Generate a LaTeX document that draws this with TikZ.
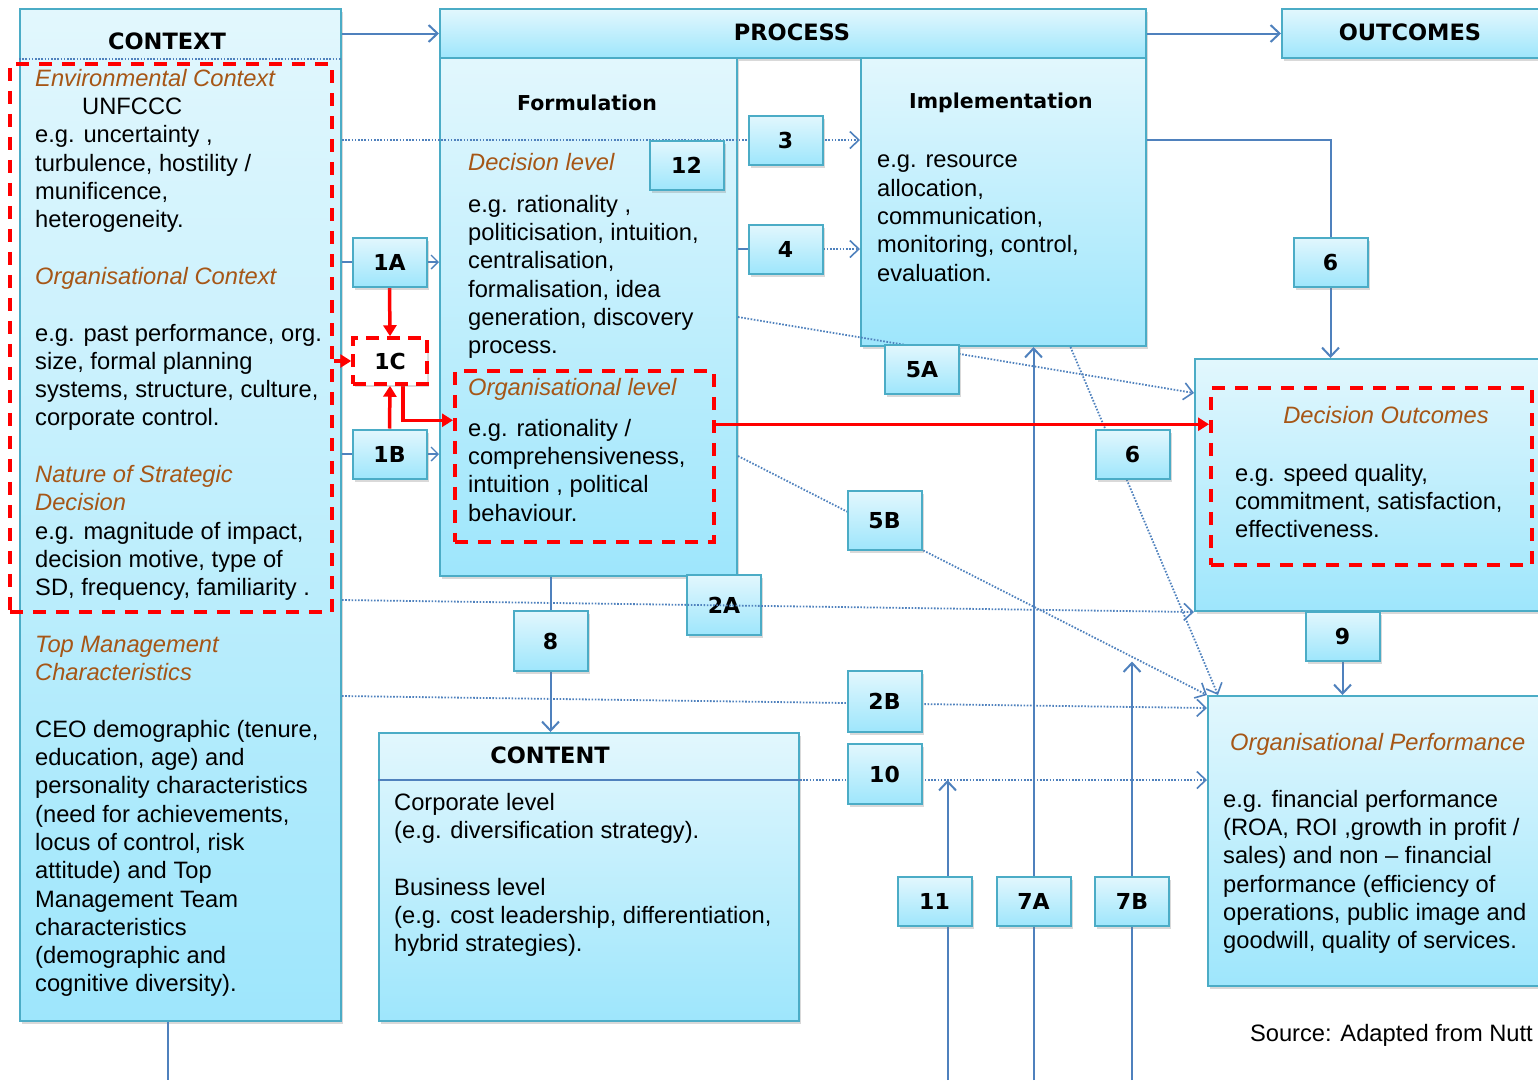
\documentclass[tikz,border=0pt]{standalone}
\usepackage{fontspec}
\setmainfont{Liberation Sans}
\newfontfamily\hdfont{DejaVu Sans}
\usetikzlibrary{arrows.meta,shadows,positioning}

\definecolor{boxline}{RGB}{75,172,198}
\definecolor{boxtop}{RGB}{226,247,253}
\definecolor{boxbot}{RGB}{158,230,252}
\definecolor{arrowblue}{RGB}{79,129,189}
\definecolor{headbrown}{RGB}{166,86,22}

\newcommand{\bodyfont}{\fontsize{23.7pt}{28.3pt}\selectfont}
\newcommand{\hd}[1]{\textcolor{headbrown}{\itshape #1}}

\pgfdeclarelayer{boxes}
\pgfdeclarelayer{lines}
\pgfdeclarelayer{top}
\pgfsetlayers{boxes,lines,main,top}

\begin{document}
\begin{tikzpicture}[x=1pt, y=-1pt,
  box/.style={draw=boxline, line width=2pt, top color=boxtop, bottom color=boxbot,
    inner sep=0pt, drop shadow={shadow xshift=2pt, shadow yshift=-3pt, opacity=0.3}},
  bigbox/.style={box, anchor=north west},
  numbox/.style={box, minimum width=74pt, minimum height=49pt,
    font=\hdfont\bfseries\fontsize{22pt}{26pt}\selectfont},
  reddash/.style={draw=red, line width=3.5pt, dash pattern=on 13pt off 10pt, inner sep=0pt},
  title/.style={font=\hdfont\bfseries\fontsize{22.5pt}{27pt}\selectfont},
  subtitle/.style={font=\hdfont\bfseries\fontsize{20.5pt}{25pt}\selectfont},
  txt/.style={anchor=north west, align=left, inner sep=0pt, font=\bodyfont},
  link/.style={draw=arrowblue, line width=2pt},
  arr/.style={link, -{Straight Barb[length=9pt,width=17pt]}},
  smallarr/.style={link, line width=1.3pt, -{Straight Barb[length=7pt,width=14pt]}},
  dotlink/.style={draw=arrowblue, line width=1.8pt, dash pattern=on 1.6pt off 1.6pt},
  dotarr/.style={dotlink, -{Straight Barb[length=9pt,width=17pt,line width=1.6pt]}},
  redlink/.style={draw=red, line width=3.5pt},
  redarr/.style={redlink, -{Triangle[length=11pt,width=13pt]}}]

  \useasboundingbox (0,0) rectangle (1538,1080);
  \coordinate (bot) at (0,1080);

  % main boxes
  \begin{pgfonlayer}{boxes}
    \node[bigbox, minimum width=321pt, minimum height=1012pt] (context) at (19,8) {};
    \node[bigbox, minimum width=706pt, minimum height=49pt] (process) at (439,8) {};
    \node[bigbox, minimum width=297pt, minimum height=518pt] (formul) at (439,57) {};
    \node[bigbox, minimum width=285pt, minimum height=288pt] (implem) at (860,57) {};
    \node[bigbox, minimum width=280pt, minimum height=49pt] (outcomes) at (1281,8) {};
    \node[bigbox, minimum width=370pt, minimum height=252pt] (decout) at (1194,358) {};
    \node[bigbox, minimum width=360pt, minimum height=290pt] (orgperf) at (1207,695) {};
    \node[bigbox, minimum width=420pt, minimum height=288pt] (content) at (378,732) {};
    \coordinate (csep) at ([yshift=-48pt]content.north east);
    \draw[dotlink] (context.west |- process.south) -- (context.east |- process.south);
    \draw[link] (content.west |- csep) -- (csep);

    % titles
    \node[title] (contexttitle) at (167,41) {CONTEXT};
    \node[title] (processtitle) at (792,32) {PROCESS};
    \node[title] (outcomestitle) at (1410,32) {OUTCOMES};
    \node[title] (contenttitle) at (550,755) {CONTENT};
    \node[subtitle] (formultitle) at (587,103) {Formulation};
    \node[subtitle] (implemtitle) at (1001,103) {Implementation};

    % red dashed groups
    \node[reddash, anchor=north west, minimum width=322pt, minimum height=548pt] (envbox) at (8,62) {};
    \node[reddash, anchor=north west, minimum width=259pt, minimum height=171pt] (orglevel) at (453,369) {};
    \node[reddash, anchor=north west, minimum width=321pt, minimum height=177pt] (decdash) at (1209,386) {};

    % texts
    \node[txt] (contexttext) at (35,69) {\hd{Environmental Context}\\
      \hspace*{47pt}UNFCCC\\
      e.g. uncertainty ,\\
      turbulence, hostility /\\
      munificence,\\
      heterogeneity.\\[28.3pt]
      \hd{Organisational Context}\\[28.3pt]
      e.g. past performance, org.\\
      size, formal planning\\
      systems, structure, culture,\\
      corporate control.\\[28.3pt]
      \hd{Nature of Strategic}\\
      \hd{Decision}\\
      e.g. magnitude  of impact,\\
      decision motive, type of\\
      SD, frequency, familiarity .\\[28.3pt]
      \hd{Top Management}\\
      \hd{Characteristics}\\[28.3pt]
      CEO demographic (tenure,\\
      education, age) and\\
      personality characteristics\\
      (need for achievements,\\
      locus of control, risk\\
      attitude) and Top\\
      Management Team\\
      characteristics\\
      (demographic and\\
      cognitive diversity).};
    \node[txt] (declevel) at (468,153) {\hd{Decision level}};
    \node[txt] (formultext) at (468,195) {e.g. rationality ,\\
      politicisation, intuition,\\
      centralisation,\\
      formalisation, idea\\
      generation, discovery\\
      process.};
    \node[txt] (orglevelhead) at (468,378) {\hd{Organisational level}};
    \node[txt] (orgleveltext) at (468,419) {e.g. rationality /\\
      comprehensiveness,\\
      intuition , political\\
      behaviour.};
    \node[txt] (implemtext) at (877,155) {e.g. resource\\
      allocation,\\
      communication,\\
      monitoring, control,\\
      evaluation.};
    \node[font=\bodyfont] (decouthead) at (1386,415) {\hd{Decision Outcomes}};
    \node[txt] (decouttext) at (1235,464) {e.g. speed quality,\\
      commitment, satisfaction,\\
      effectiveness.};
    \node[txt] (orgperfhead) at (1230,733) {\hd{Organisational Performance}};
    \node[txt] (orgperftext) at (1223,790) {e.g. financial  performance\\
      (ROA, ROI ,growth in profit /\\
      sales) and non -- financial\\
      performance (efficiency of\\
      operations, public image and\\
      goodwill, quality of services.};
    \node[txt] (contenttext) at (394,793) {Corporate level\\
      (e.g.  diversification strategy).\\[28.3pt]
      Business level\\
      (e.g. cost leadership, differentiation,\\
      hybrid strategies).};
    \node[font=\bodyfont, anchor=east, inner sep=0pt] (source) at (1533,1035) {Source: Adapted from Nutt};
  \end{pgfonlayer}

  % numbered links
  \node[numbox] (n1A) at (389.5,262) {1A};
  \node[numbox, fill=white, draw=red, line width=3.5pt, dash pattern=on 13pt off 8pt,
    top color=white, bottom color=white, drop shadow={opacity=0}, minimum height=46pt] (n1C) at (390,361) {1C};
  \node[numbox] (n1B) at (389.5,454) {1B};
  \node[numbox] (n12) at (686.5,165.5) {12};
  \node[numbox] (n3) at (785.5,140) {3};
  \node[numbox] (n4) at (785.5,249) {4};
  \node[numbox] (n5A) at (922,369.5) {5A};
  \node[numbox] (n6a) at (1330.5,262) {6};
  \node[numbox] (n6b) at (1132.5,454.5) {6};
  \node[numbox, minimum height=59pt] (n5B) at (884.5,520.5) {5B};
  \node[numbox, minimum height=60pt] (n2A) at (724,605) {2A};
  \node[numbox, minimum height=60pt] (n8) at (550.5,641) {8};
  \node[numbox] (n9) at (1342.5,636) {9};
  \node[numbox, minimum height=61pt] (n2B) at (884.5,701.5) {2B};
  \node[numbox, minimum height=60pt] (n10) at (884.5,774) {10};
  \node[numbox] (n11) at (934.5,901.5) {11};
  \node[numbox] (n7A) at (1033.5,901.5) {7A};
  \node[numbox] (n7B) at (1132,901.5) {7B};
  \coordinate (x11) at ([xshift=13pt]n11.south);
  \coordinate (xctx) at ([xshift=-13pt]context.south);

  % connectors
  \begin{pgfonlayer}{lines}
    \draw[arr] (context.east |- process.west) -- (process.west);
    \draw[arr] (process.east) -- (outcomes.west);
    \draw[link] (context.east |- n1A.west) -- (n1A.west);
    \draw[smallarr] (n1A.east) -- (formul.west |- n1A.east);
    \draw[link] (context.east |- n1B.west) -- (n1B.west);
    \draw[smallarr] (n1B.east) -- (formul.west |- n1B.east);
    \draw[dotarr] (context.east |- n3.west) -- (implem.west |- n3.west);
    \draw[link] (formul.east |- n4.west) -- (n4.west);
    \draw[dotarr] (n4.east) -- (implem.west |- n4.east);
    \draw[arr] (implem.east |- n3.east) -| (n6a.north |- decout.north);
    \draw[dotarr] (formul.east) -- ([yshift=92pt]decout.west);
    \draw[dotarr] ([yshift=-139pt]formul.east) -- (orgperf.north west);
    \draw[dotarr] ([xshift=67pt]implem.south) -- ([xshift=11pt]orgperf.north west);
    \draw[dotarr] ([yshift=-181pt]context.east) -- ([yshift=-13pt]orgperf.north west);
    \draw[dotarr] (csep) -- (csep -| orgperf.west);
    \draw[arr] (n8.north |- formul.south) -- (n8.south |- content.north);
    \draw[arr] (n9.north |- decout.south) -- (n9.south |- orgperf.north);
    \draw[link] (xctx) -- (xctx |- bot);
    \draw[arr] (x11 |- bot) -- (x11 |- csep);
    \draw[arr] (n7A.south |- bot) -- (n7A.north |- implem.south);
    \draw[arr] (n7B.south |- bot) -- (n7B.north |- n9.south);
    % red links
    \draw[redarr] (n1A.south) -- (n1C.north);
    \draw[redarr] (n1B.north) -- (n1C.south);
    \draw[redarr] (envbox.east |- n1C.west) -- (n1C.west);
    \draw[redarr] ([xshift=13pt]n1C.south) |- ([yshift=36pt]orglevel.west);
    \draw[redarr] ([yshift=32pt]orglevel.east) -- ([yshift=32pt]orglevel.east -| decdash.west);
  \end{pgfonlayer}

  \begin{pgfonlayer}{top}
    \draw[dotarr] ([yshift=-85pt]context.east) -- (decout.south west);
  \end{pgfonlayer}
\end{tikzpicture}
\end{document}
